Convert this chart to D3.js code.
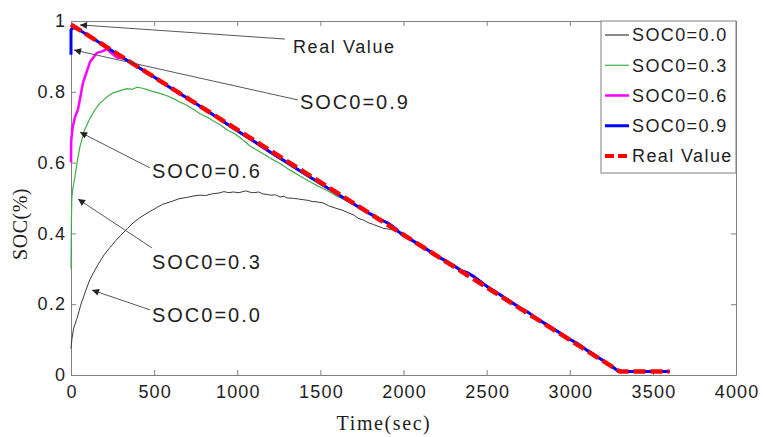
<!DOCTYPE html>
<html>
<head>
<meta charset="utf-8">
<script src="https://cdn.jsdelivr.net/npm/d3@7"></script>
<style>
  body { margin: 0; background: #fff; }
</style>
</head>
<body>
<div id="chart"></div>
<script>
// --- Data ---
const xTicks = [0, 500, 1000, 1500, 2000, 2500, 3000, 3500, 4000];
const xTickLabels = ["0", "500", "1000", "1500", "2000", "2500", "3000", "3500", "4000"];
const yTicks = [0, 0.2, 0.4, 0.6, 0.8, 1];
const yTickLabels = ["0", "0.2", "0.4", "0.6", "0.8", "1"];

const seriesNames = ["SOC0=0.0", "SOC0=0.3", "SOC0=0.6", "SOC0=0.9", "Real Value"];
const seriesColors = ["#3a3a3a", "#3fae48", "#ff00ff", "#0000ff", "#ff0000"];

// real value
const realT = [0, 3300, 3600];
const realV = [0.99, 0.01, 0.01];

// SOC0=0.9 estimate (follows the real value closely)
const est09T = [0, 0, 15, 60, 120, 200, 300, 400, 500, 600, 700, 800, 900, 1000, 1100, 1200, 1300, 1400,
  1500, 1600, 1700, 1800, 1850, 1880, 1910, 1940, 1970, 2000, 2050, 2100, 2150, 2200, 2250, 2300, 2350,
  2380, 2420, 2460, 2500, 2600, 2700, 2750, 2800, 2900, 3000, 3050, 3100, 3200, 3260, 3290, 3320, 3600];
const est09V = [0.905, 0.975, 0.982, 0.972, 0.955, 0.93, 0.9, 0.871, 0.842, 0.811, 0.782, 0.752, 0.721,
  0.69, 0.66, 0.629, 0.6, 0.57, 0.541, 0.512, 0.483, 0.455, 0.442, 0.435, 0.428, 0.418, 0.405, 0.394,
  0.381, 0.366, 0.352, 0.337, 0.323, 0.31, 0.294, 0.29, 0.279, 0.265, 0.251, 0.221, 0.19, 0.177, 0.16,
  0.131, 0.101, 0.088, 0.071, 0.041, 0.022, 0.012, 0.01, 0.01];

// SOC0=0.6 estimate (start, until it joins)
const est06T = [0, 1, 10, 25, 42, 72, 114, 156, 192, 215, 240, 276, 310, 343];
const est06V = [0.6, 0.66, 0.7, 0.73, 0.75, 0.825, 0.884, 0.91, 0.915, 0.922, 0.91, 0.897, 0.895, 0.888];

// SOC0=0.3 estimate
const est03T = [0, 2, 5, 12, 24, 40, 54, 80, 114, 145, 174, 215, 253, 300, 337, 370, 397, 430, 457, 500,
  540, 577, 620, 660, 697, 740, 776, 820, 854, 900, 940, 980, 1016, 1077, 1137, 1200, 1260, 1320, 1377,
  1430, 1480, 1520, 1558, 1600, 1650, 1700];
const est03V = [0.3, 0.42, 0.5, 0.53, 0.56, 0.61, 0.645, 0.69, 0.725, 0.75, 0.768, 0.785, 0.797, 0.804,
  0.809, 0.807, 0.813, 0.81, 0.806, 0.8, 0.795, 0.789, 0.78, 0.77, 0.762, 0.749, 0.738, 0.728, 0.718, 0.706,
  0.692, 0.683, 0.671, 0.647, 0.63, 0.612, 0.597, 0.578, 0.562, 0.548, 0.535, 0.526, 0.516, 0.505, 0.494,
  0.483];

// SOC0=0.0 estimate (noisy thin line)
const est00T = [0, 5, 15, 36, 60, 90, 114, 160, 200, 234, 270, 300, 340, 375, 410, 450, 490, 520, 550,
  577, 610, 650, 700, 740, 776, 810, 850, 890, 920, 950, 975, 1010, 1050, 1080, 1100, 1130, 1150, 1180,
  1200, 1230, 1257, 1280, 1300, 1340, 1370, 1400, 1430, 1450, 1480, 1516, 1550, 1600, 1630, 1660, 1700,
  1730, 1757, 1790, 1820, 1859, 1880, 1900, 1937, 1970, 1997];
const est00V = [0.075, 0.1, 0.13, 0.16, 0.2, 0.24, 0.27, 0.31, 0.34, 0.36, 0.38, 0.395, 0.414, 0.43, 0.443,
  0.455, 0.466, 0.474, 0.482, 0.486, 0.491, 0.498, 0.502, 0.506, 0.508, 0.507, 0.512, 0.514, 0.518, 0.515,
  0.517, 0.515, 0.52, 0.516, 0.515, 0.517, 0.512, 0.51, 0.508, 0.509, 0.503, 0.505, 0.5, 0.499, 0.497,
  0.495, 0.493, 0.49, 0.489, 0.486, 0.478, 0.47, 0.466, 0.46, 0.452, 0.442, 0.438, 0.43, 0.425, 0.418,
  0.414, 0.413, 0.41, 0.403, 0.396];

// annotations: label, arrow tip, arrow tail, text anchor (data units)
const annLabels = ["Real Value", "SOC0=0.9", "SOC0=0.6", "SOC0=0.3", "SOC0=0.0"];
const annTipT = [54, 18, 54, 42, 126];
const annTipV = [0.989, 0.918, 0.686, 0.497, 0.24];
const annTailT = [1287, 1365, 475, 487, 475];
const annTailV = [0.949, 0.777, 0.585, 0.359, 0.184];
const annTextT = [1335, 1377, 487, 487, 487];
const annTextV = [0.929, 0.771, 0.576, 0.319, 0.169];
const annFont = [18, 20, 20, 20, 20];

// each estimate continues on the 0.9 track once it has joined it
function withTail(ts, vs) {
  const last = ts[ts.length - 1];
  const pts = ts.map((t, i) => [t, vs[i]]);
  est09T.forEach((t, i) => { if (t > last) pts.push([t, est09V[i]]); });
  return pts;
}

const seriesPts = [
  withTail(est00T, est00V),
  withTail(est03T, est03V),
  withTail(est06T, est06V),
  est09T.map((t, i) => [t, est09V[i]]),
  realT.map((t, i) => [t, realV[i]])
];
const seriesWidth = [1, 1.2, 2.5, 3, 4.5];

// --- SVG ---
const width = 763, height = 437;
const margin = { top: 21, right: 27, bottom: 62, left: 71 };
const innerW = width - margin.left - margin.right;
const innerH = height - margin.top - margin.bottom;

const svg = d3.select("#chart").append("svg")
  .attr("width", width)
  .attr("height", height);

const g = svg.append("g")
  .attr("transform", `translate(${margin.left},${margin.top})`);

const x = d3.scaleLinear().domain([0, 4000]).range([0, innerW]);
const y = d3.scaleLinear().domain([0, 1]).range([innerH, 0]);

const frameColor = "#808080";
const textColor = "#1e1e1e";
const sans = "'Liberation Sans', Arial, sans-serif";
const serif = "'Liberation Serif', 'Times New Roman', serif";

// --- Axes (ticks pointing inwards, box on) ---
const xAxis = g.append("g")
  .attr("transform", `translate(0,${innerH})`)
  .call(d3.axisBottom(x).tickValues(xTicks).tickFormat((d, i) => xTickLabels[i])
    .tickSizeInner(-5).tickSizeOuter(0).tickPadding(9));
const yAxis = g.append("g")
  .call(d3.axisLeft(y).tickValues(yTicks).tickFormat((d, i) => yTickLabels[i])
    .tickSizeInner(-5).tickSizeOuter(0).tickPadding(6));
g.append("g")
  .call(d3.axisTop(x).tickValues(xTicks).tickFormat("").tickSizeInner(-5).tickSizeOuter(0));
g.append("g")
  .attr("transform", `translate(${innerW},0)`)
  .call(d3.axisRight(y).tickValues(yTicks).tickFormat("").tickSizeInner(-5).tickSizeOuter(0));

g.selectAll(".domain, .tick line").attr("stroke", frameColor);
g.selectAll(".tick text")
  .attr("fill", textColor)
  .style("font-family", sans)
  .style("font-size", "18px")
  .style("letter-spacing", "1.2px");
xAxis.selectAll(".tick text").attr("dx", "0.6px").attr("dy", "0.78em");
yAxis.selectAll(".tick text").attr("dx", "1.2px");

// axis labels
svg.append("text")
  .attr("x", 384)
  .attr("y", 430)
  .attr("text-anchor", "middle")
  .attr("fill", textColor)
  .style("font-family", serif)
  .style("font-size", "20px")
  .style("letter-spacing", "1.6px")
  .text("Time(sec)");

svg.append("text")
  .attr("transform", "translate(27,224) rotate(-90)")
  .attr("text-anchor", "middle")
  .attr("fill", textColor)
  .style("font-family", serif)
  .style("font-size", "20px")
  .style("letter-spacing", "0.5px")
  .text("SOC(%)");

// --- Curves ---
const line = d3.line().x(d => x(d[0])).y(d => y(d[1]));

const plot = g.append("g");
seriesPts.forEach((pts, i) => {
  plot.append("path")
    .datum(pts)
    .attr("fill", "none")
    .attr("stroke", seriesColors[i])
    .attr("stroke-width", seriesWidth[i])
    .attr("stroke-linejoin", "round")
    .attr("stroke-dasharray", i === 4 ? "12,5" : null)
    .attr("d", line);
});

// --- Annotations ---
svg.append("defs").append("marker")
  .attr("id", "arrow")
  .attr("viewBox", "0 0 10 10")
  .attr("refX", 10).attr("refY", 5)
  .attr("markerWidth", 9).attr("markerHeight", 7)
  .attr("markerUnits", "userSpaceOnUse")
  .attr("orient", "auto")
  .append("path")
  .attr("d", "M0,0L10,5L0,10Z")
  .attr("fill", "#222");

const ann = g.append("g");
annLabels.forEach((lab, i) => {
  ann.append("line")
    .attr("x1", x(annTailT[i])).attr("y1", y(annTailV[i]))
    .attr("x2", x(annTipT[i])).attr("y2", y(annTipV[i]))
    .attr("stroke", "#444")
    .attr("stroke-width", 0.9)
    .attr("marker-end", "url(#arrow)");
  ann.append("text")
    .attr("x", x(annTextT[i]))
    .attr("y", y(annTextV[i]))
    .attr("dy", "0.36em")
    .attr("fill", textColor)
    .style("font-family", sans)
    .style("font-size", annFont[i] + "px")
    .style("letter-spacing", i === 0 ? "1.6px" : "2px")
    .text(lab);
});

// --- Legend ---
const legend = svg.append("g").attr("transform", "translate(601,21)");
legend.append("rect")
  .attr("width", 135).attr("height", 152)
  .attr("fill", "#fff")
  .attr("stroke", frameColor);

const legendY = d3.scalePoint().domain(seriesNames).range([14, 135]);
seriesNames.forEach((name, i) => {
  const ly = legendY(name);
  legend.append("line")
    .attr("x1", 4).attr("x2", 28)
    .attr("y1", ly).attr("y2", ly)
    .attr("stroke", seriesColors[i])
    .attr("stroke-width", i === 4 ? 4 : Math.max(seriesWidth[i], 1.2))
    .attr("stroke-dasharray", i === 4 ? "9,4" : null);
  legend.append("text")
    .attr("x", 31).attr("y", ly)
    .attr("dy", "0.36em")
    .attr("fill", textColor)
    .style("font-family", sans)
    .style("font-size", "18px")
    .style("letter-spacing", "1.4px")
    .text(name);
});
</script>
</body>
</html>
